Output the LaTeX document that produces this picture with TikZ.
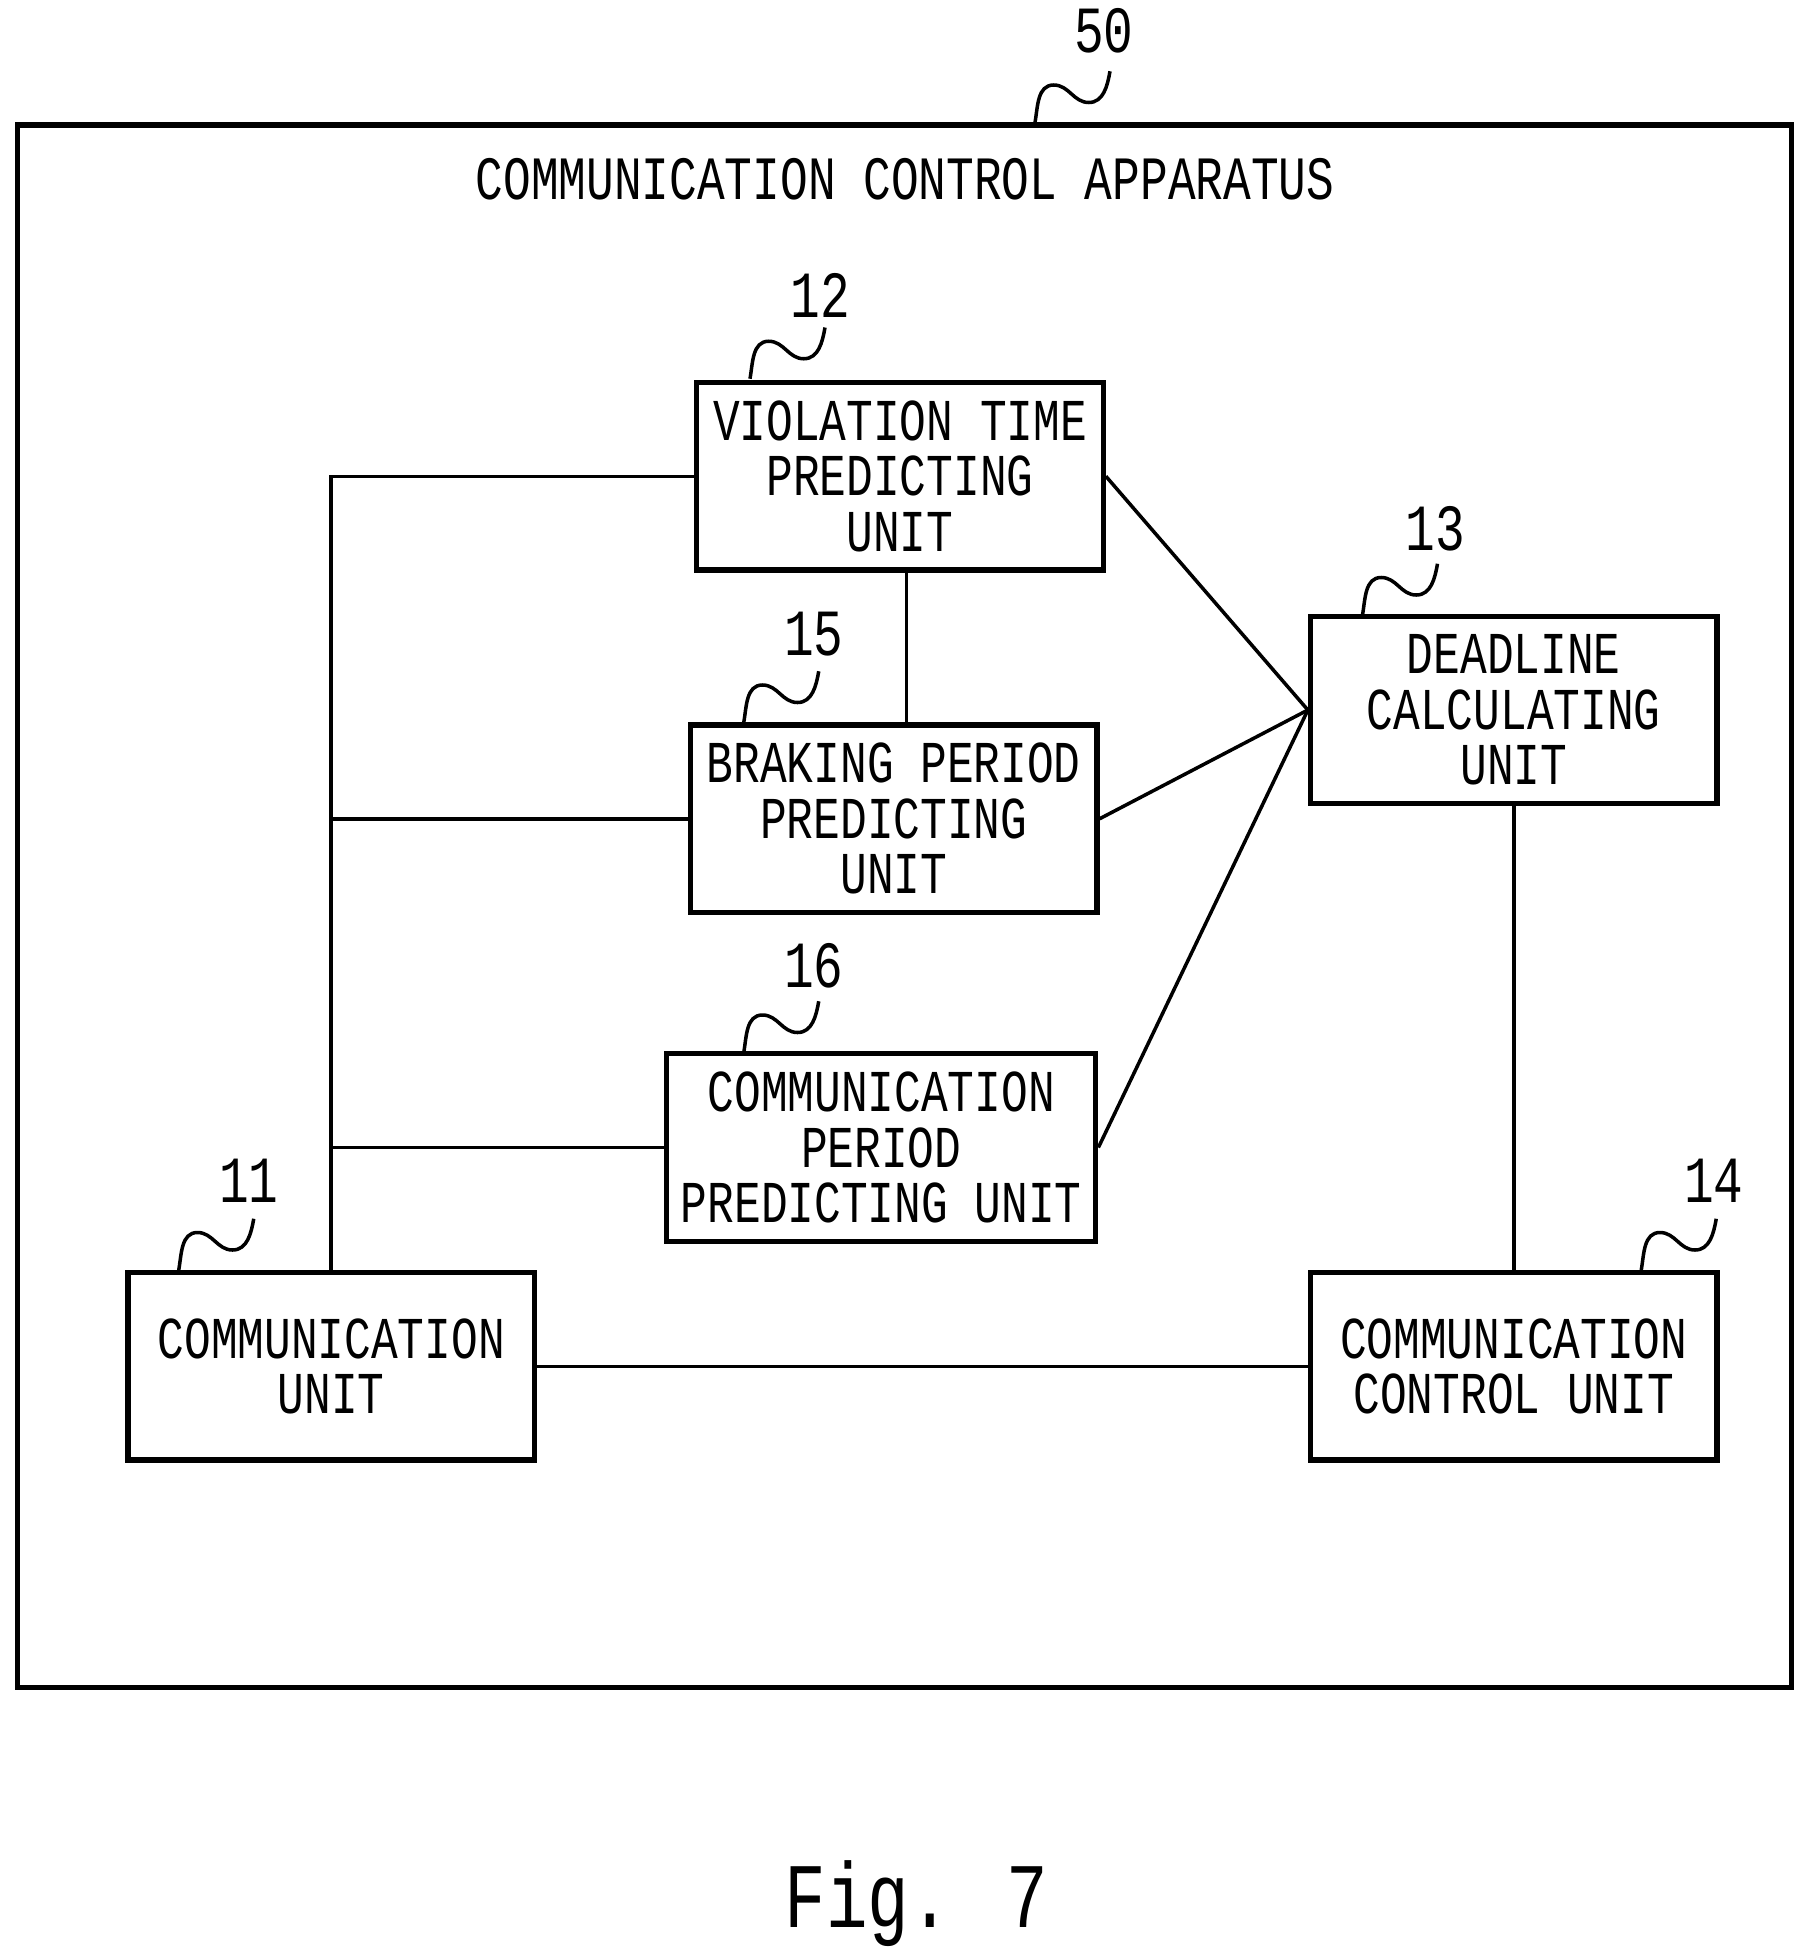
\documentclass[tikz,border=0pt]{standalone}
\usepackage{fontspec}
\setmainfont{Liberation Mono}[FakeStretch=0.75]
\usetikzlibrary{positioning}
\newcommand\refsquig[1]{\draw (#1) to[out=80,in=180] ++(15,30) to[out=0,in=180] ++(28,-14) to[out=0,in=260] ++(17,25);}
\begin{document}
\begin{tikzpicture}[
  x=0.01cm, y=0.01cm,
  thick,
  unit/.style={draw, line width=1.2pt, minimum width=3.25cm, minimum height=1.5cm,
    align=center, inner sep=0pt, font=\fontsize{13.5}{12.6}\selectfont},
  refnum/.style={font=\fontsize{15}{15}\selectfont}
]
\useasboundingbox (0,0) rectangle (1440,-1560);
\draw[line width=1.2pt] (14,-100) rectangle (1433,-1350);
\node[font=\fontsize{14}{14}\selectfont] (title) at (724,-143) {COMMUNICATION CONTROL APPARATUS};

\node[unit] (violation) at (720,-381) {VIOLATION TIME\\PREDICTING\\UNIT};
\node[unit] (braking) at (715,-655) {BRAKING PERIOD\\PREDICTING\\UNIT};
\node[unit, minimum width=3.43cm] (commperiod) at (705,-918) {COMMUNICATION\\PERIOD\\PREDICTING UNIT};
\node[unit] (deadline) at (1211,-568) {DEADLINE\\CALCULATING\\UNIT};
\node[unit] (communit) at (265,-1093) {COMMUNICATION\\UNIT};
\node[unit] (commctrl) at (1211,-1093) {COMMUNICATION\\CONTROL UNIT};

% reference numbers
\node[refnum] (n50) at (883,-25) {50};
\node[refnum] (n12) at (656,-236) {12};
\node[refnum] (n15) at (651,-507) {15};
\node[refnum] (n16) at (651,-773) {16};
\node[refnum] (n13) at (1148,-423) {13};
\node[refnum] (n11) at (199,-945) {11};
\node[refnum] (n14) at (1371,-945) {14};
\refsquig{828,-98}
\refsquig{600,-303}
\refsquig{595,-578}
\refsquig{595,-842}
\refsquig{1090,-492}
\refsquig{143,-1016}
\refsquig{1313,-1016}

% connections
\coordinate (bus) at (265,-381);
\draw (communit.north) -- (bus) -- (violation.west);
\draw (braking.west) -- (braking.west -| bus);
\draw (commperiod.west) -- (commperiod.west -| bus);
\draw (violation.south -| 725,0) -- (braking.north -| 725,0);
\draw (violation.east) -- (deadline.west);
\draw (braking.east) -- (deadline.west);
\draw (commperiod.east) -- (deadline.west);
\draw (deadline.south) -- (commctrl.north);
\draw (communit.east) -- (commctrl.west);

\node[font=\fontsize{21}{21}\selectfont] (fig) at (733,-1523) {Fig. 7};
\end{tikzpicture}
\end{document}
